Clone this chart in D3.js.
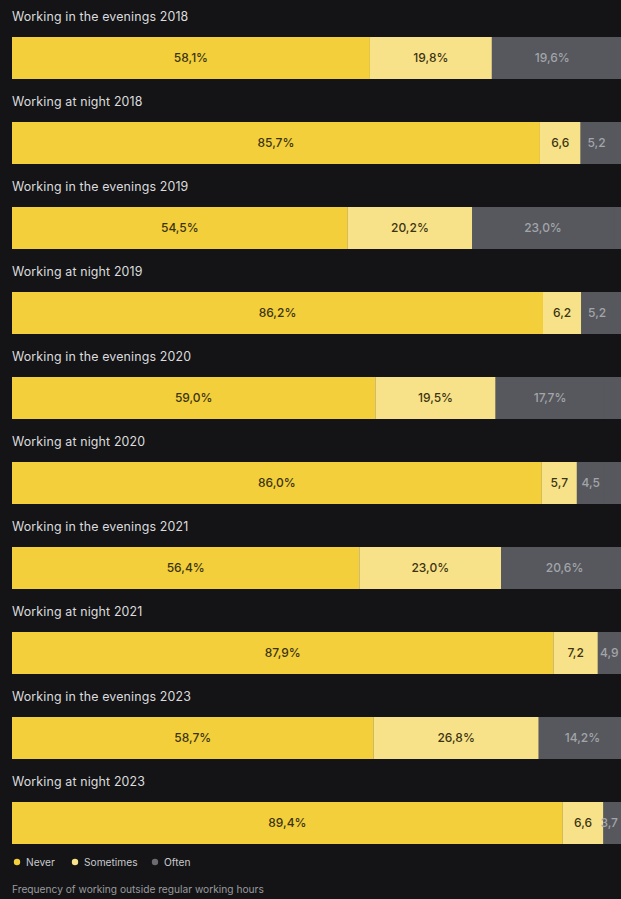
<!DOCTYPE html>
<html><head><meta charset="utf-8">
<script src="https://cdn.jsdelivr.net/npm/d3@7/dist/d3.min.js"></script>
<style>
html,body{margin:0;padding:0;background:#141416;overflow:hidden;}
svg{display:block;font-family:Inter, "Noto Sans", sans-serif;}
</style></head><body>
<svg id="c" width="621" height="899"></svg>
<script>
const titles = ["Working in the evenings 2018","Working at night 2018","Working in the evenings 2019","Working at night 2019","Working in the evenings 2020","Working at night 2020","Working in the evenings 2021","Working at night 2021","Working in the evenings 2023","Working at night 2023"];
const never = [58.1,85.7,54.5,86.2,59.0,86.0,56.4,87.9,58.7,89.4];
const sometimes = [19.8,6.6,20.2,6.2,19.5,5.7,23.0,7.2,26.8,6.6];
const often = [19.6,5.2,23.0,5.2,17.7,4.5,20.6,4.9,14.2,3.7];
const seriesNames = ["Never","Sometimes","Often"];
const caption = "Frequency of working outside regular working hours";

const colors = {Never:"#f3cf3b", Sometimes:"#f8e289", Often:"#56585d"};
const textColors = {Never:"#3b3412", Sometimes:"#3b3412", Often:"#a3a5aa"};

const W = 621;
const svg = d3.select("#c");
const x = d3.scaleLinear().domain([0,100]).range([12,628]);
const y = d3.scaleBand().domain(d3.range(titles.length)).range([0,850]).paddingInner(0);
const barH = 42;

const fmt = v => {
  const s = v.toFixed(1).replace(".", ",");
  return v < 10 ? s : s + "%";
};

titles.forEach((t,i)=>{
  const g = svg.append("g").attr("transform",`translate(0,${y(i)})`);
  g.append("text").attr("x",12).attr("y",21).attr("fill","#dcdcdf")
    .attr("font-size",12.4).attr("font-weight",400).attr("letter-spacing",0.15).text(t);
  const vals = [never[i], sometimes[i], often[i]];
  g.append("rect").attr("x",x(0)).attr("y",37).attr("width",x(100)-x(0)).attr("height",barH).attr("fill",colors.Often);
  let cum = 0;
  vals.forEach((v,k)=>{
    const key = seriesNames[k];
    const x0 = x(cum), x1 = x(cum+v);
    g.append("rect").attr("x",x0).attr("y",37).attr("width",x1-x0).attr("height",barH).attr("fill",colors[key]);
    const label = fmt(v);
    const half = label.length * 3.6;
    const cx = Math.min((x0+x1)/2, W - half - 1);
    g.append("text").attr("x",cx).attr("y",37+barH/2).attr("dy","0.36em")
      .attr("text-anchor","middle").attr("fill",textColors[key]).attr("font-size",12)
      .attr("font-weight",500).text(label);
    cum += v;
  });
});

const lg = svg.append("g").attr("transform","translate(0,862)");
const lx = [17,75,155];
const dotColors = {Never:"#f3cf3b", Sometimes:"#f8e289", Often:"#6a6c70"};
seriesNames.forEach((n,k)=>{
  lg.append("circle").attr("cx",lx[k]).attr("cy",0).attr("r",3.2).attr("fill",dotColors[n]);
  lg.append("text").attr("x",lx[k]+9).attr("y",0).attr("dy","0.35em").attr("fill","#c9c9cc").attr("font-size",10.2).text(n);
});
svg.append("text").attr("x",12).attr("y",893).attr("fill","#9a9a9e").attr("font-size",10.2).text(caption);
</script>
</body></html>
